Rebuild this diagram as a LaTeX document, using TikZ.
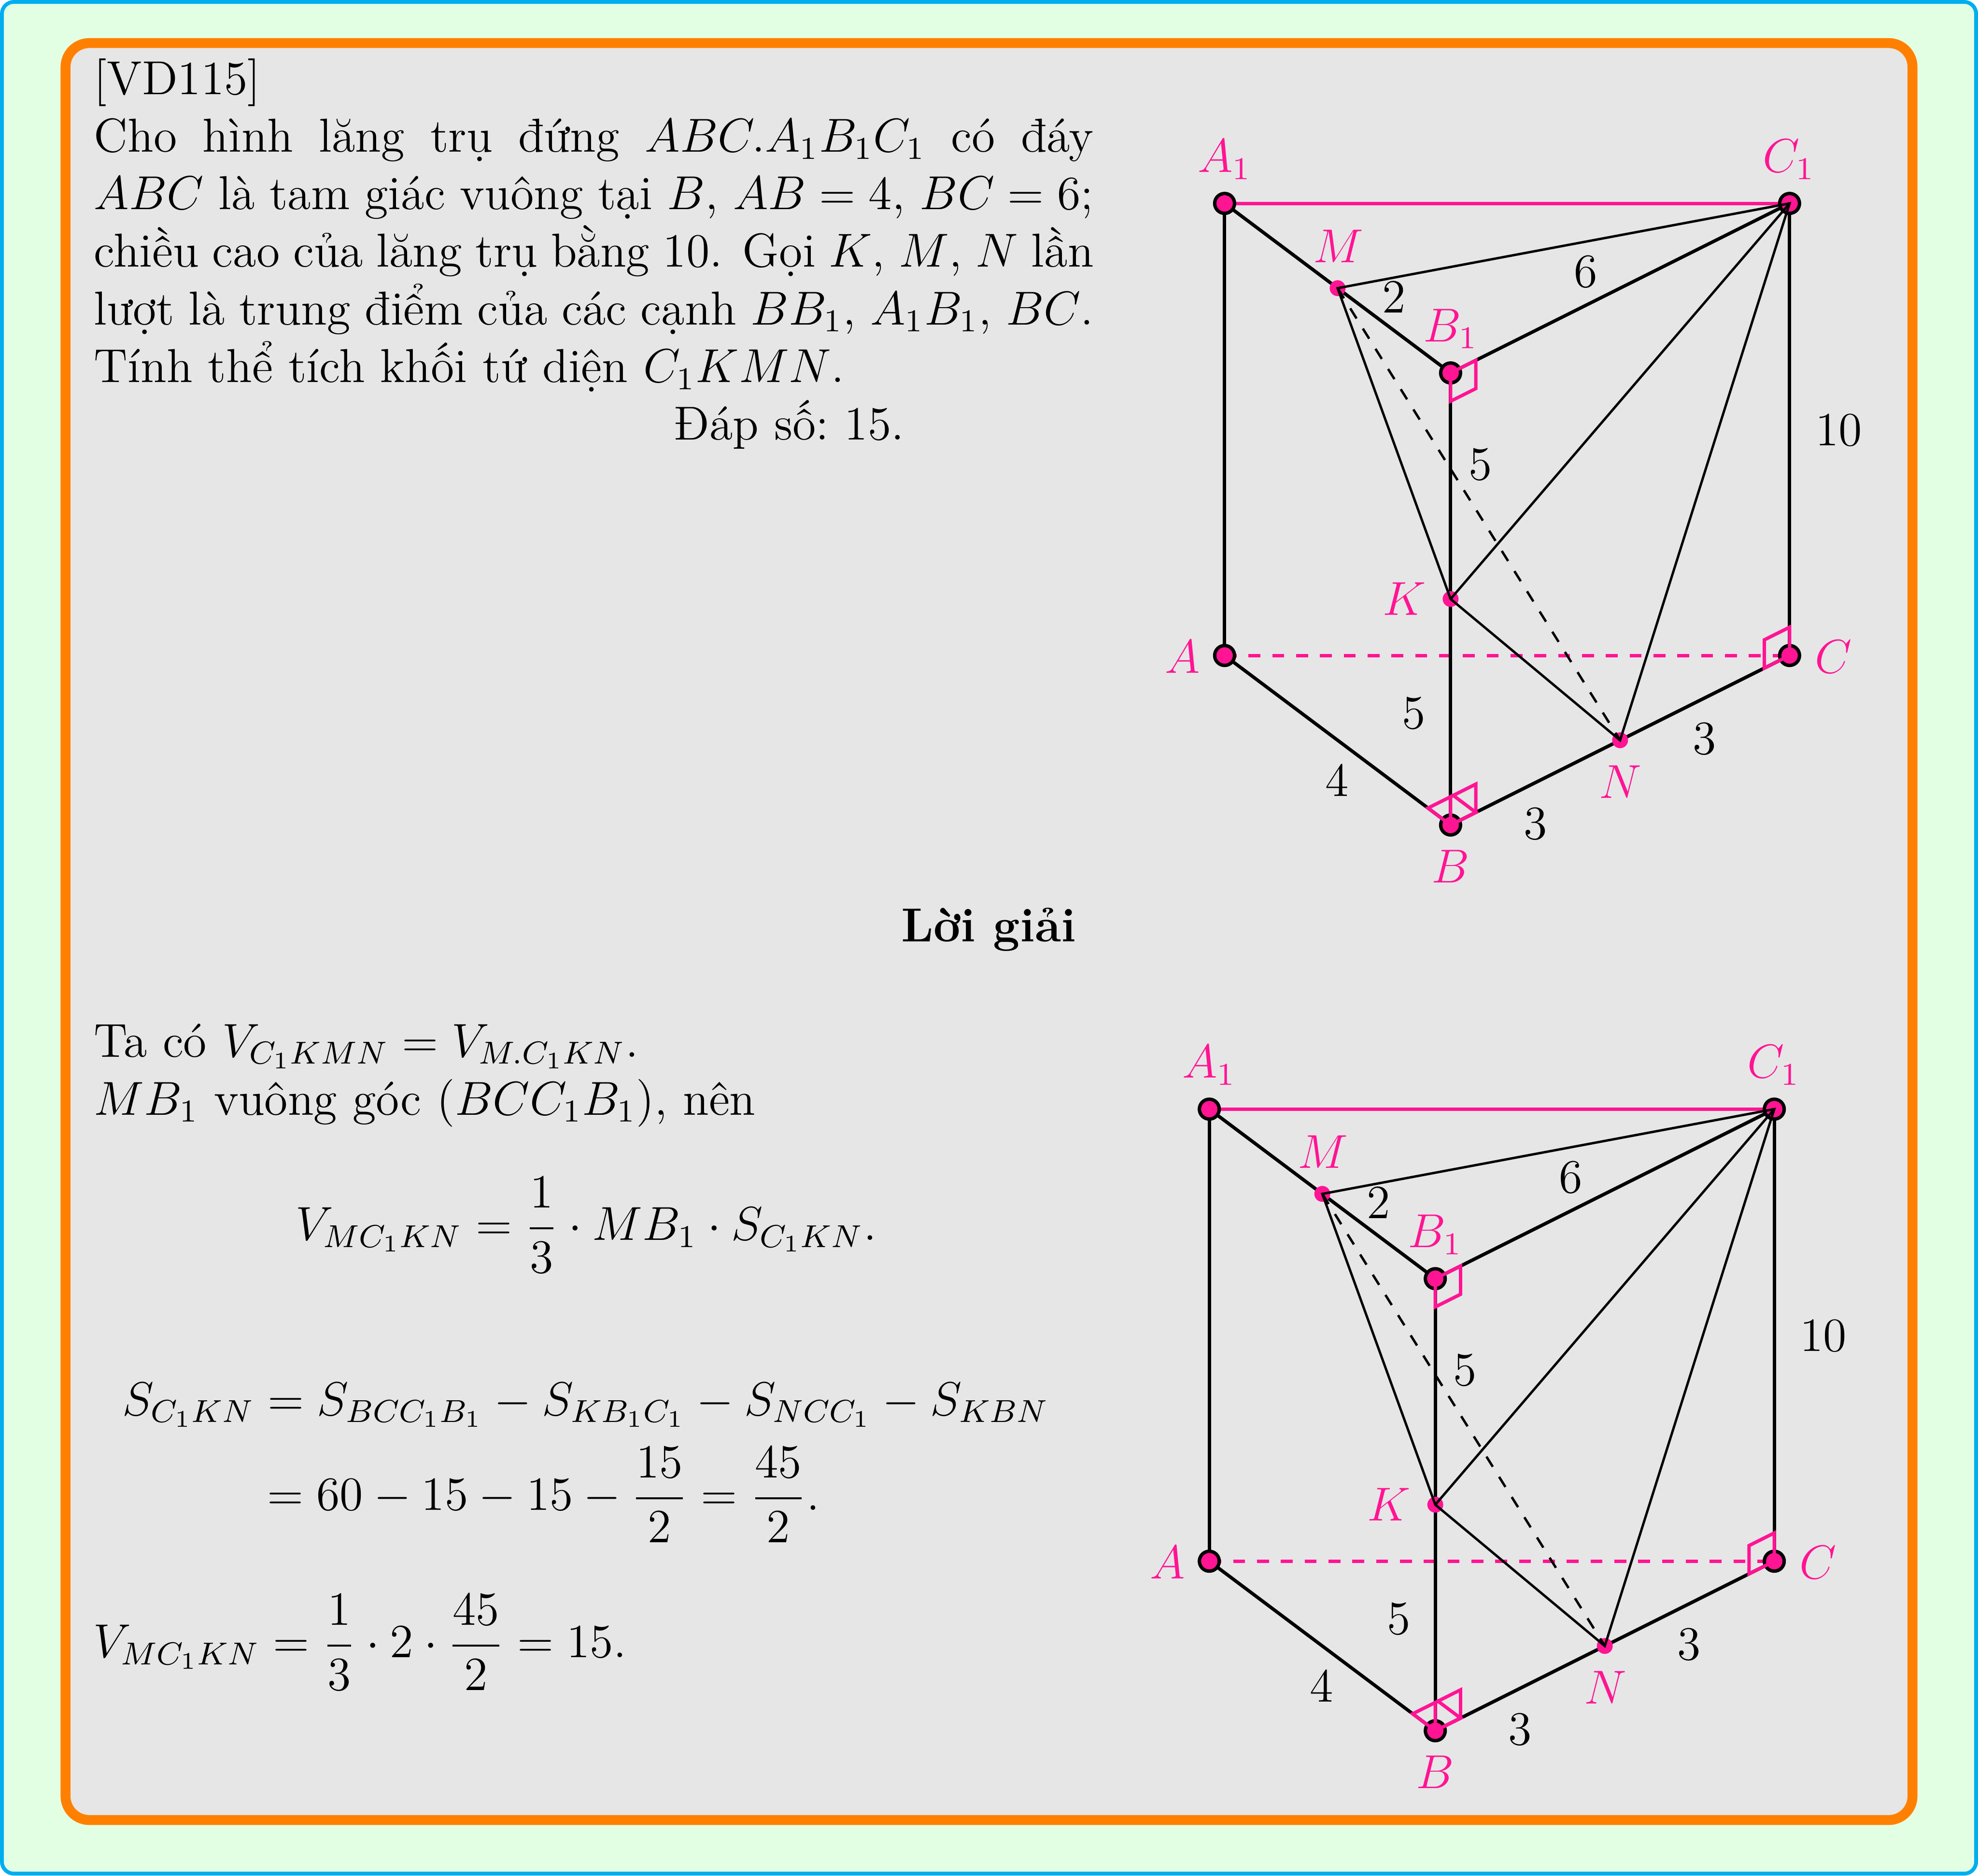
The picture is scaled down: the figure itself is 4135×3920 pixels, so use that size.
\documentclass[12pt,tikz,border=0pt]{standalone}
\usepackage{amsmath}
\definecolor{pinkc}{HTML}{FF1493}
\definecolor{framec}{HTML}{00AEEF}
\definecolor{greenbg}{HTML}{E3FFE3}
\definecolor{orangec}{HTML}{FF8000}
\definecolor{panelbg}{HTML}{E6E6E6}
\tikzset{
  bigdot/.style={circle,draw=black,fill=pinkc,line width=0.85pt,minimum size=5pt,inner sep=0pt,outer sep=0pt},
  smalldot/.style={circle,fill=pinkc,draw=none,minimum size=4pt,inner sep=0pt,outer sep=0pt},
  edgeline/.style={line width=0.85pt,black},
  pinkline/.style={line width=0.85pt,pinkc},
  thinline/.style={line width=0.6pt,black},
  anglemark/.style={line width=0.85pt,pinkc},
  ptlabel/.style={anchor=base,inner sep=0pt,text=pinkc},
  numlabel/.style={anchor=base,inner sep=0pt,text=black},
  txt/.style={anchor=base west,inner sep=0pt,text=black}
}
\newcommand{\prismfig}[3]{%
\begin{scope}[shift={(#1,#2)},x=1cm,y=1cm]
  \coordinate (A#3) at (0,0);
  \coordinate (B#3) at (2,-1.5);
  \coordinate (C#3) at (5,0);
  \coordinate (Ap#3) at (0,4);
  \coordinate (Bp#3) at (2,2.5);
  \coordinate (Cp#3) at (5,4);
  \coordinate (M#3) at (1,3.25);
  \coordinate (K#3) at (2,0.5);
  \coordinate (N#3) at (3.5,-0.75);
  \draw[pinkline] (Ap#3) -- (Cp#3);
  \draw[pinkline,dashed] (A#3) -- (C#3);
  \draw[edgeline] (Ap#3) -- (A#3);
  \draw[edgeline] (Ap#3) -- (Bp#3);
  \draw[edgeline] (Bp#3) -- (Cp#3);
  \draw[edgeline] (Bp#3) -- (B#3);
  \draw[edgeline] (Cp#3) -- (C#3);
  \draw[edgeline] (A#3) -- (B#3);
  \draw[edgeline] (B#3) -- (C#3);
  \node[bigdot] (dA#3) at (A#3) {};
  \node[bigdot] (dB#3) at (B#3) {};
  \node[bigdot] (dC#3) at (C#3) {};
  \node[bigdot] (dAp#3) at (Ap#3) {};
  \node[bigdot] (dBp#3) at (Bp#3) {};
  \node[bigdot] (dCp#3) at (Cp#3) {};
  \node[smalldot] (dM#3) at (M#3) {};
  \node[smalldot] (dK#3) at (K#3) {};
  \node[smalldot] (dN#3) at (N#3) {};
  % right angle marks
  \draw[anglemark] (B#3) -- ++(-0.2,0.15) -- ++(0.2236,0.1118) -- ++(0.2,-0.15) -- ++(-0.2236,-0.1118);
  \draw[anglemark] (B#3) -- ++(0,0.25) -- ++(0.2236,0.1118) -- ++(0,-0.25) -- ++(-0.2236,-0.1118);
  \draw[anglemark] (Bp#3) -- ++(0,-0.25) -- ++(0.2236,0.1118) -- ++(0,0.25) -- ++(-0.2236,-0.1118);
  \draw[anglemark] (C#3) -- ++(0,0.25) -- ++(-0.2236,-0.1118) -- ++(0,-0.25) -- ++(0.2236,0.1118);
  % thin segments
  \draw[thinline] (M#3) -- (Cp#3) -- (N#3) -- (K#3) -- cycle;
  \draw[thinline] (K#3) -- (Cp#3);
  \draw[thinline,dashed] (M#3) -- (N#3);
  % labels
  \node[ptlabel] (lAp#3) at (0,4.276) {$A_1$};
  \node[ptlabel] (lCp#3) at (4.995,4.276) {$C_1$};
  \node[ptlabel] (lM#3) at (1.006,3.477) {$M$};
  \node[ptlabel] (lBp#3) at (2,2.778) {$B_1$};
  \node[ptlabel] (lK#3) at (1.59,0.359) {$K$};
  \node[ptlabel] (lA#3) at (-0.371,-0.156) {$A$};
  \node[ptlabel] (lC#3) at (5.387,-0.156) {$C$};
  \node[ptlabel] (lN#3) at (3.503,-1.261) {$N$};
  \node[ptlabel] (lB#3) at (2,-2.009) {$B$};
  \node[numlabel] (nii#3) at (1.499,3.032) {$2$};
  \node[numlabel] (nvi#3) at (3.197,3.258) {$6$};
  \node[numlabel] (nx#3) at (5.434,1.857) {$10$};
  \node[numlabel] (nvu#3) at (2.263,1.555) {$5$};
  \node[numlabel] (nvl#3) at (1.676,-0.648) {$5$};
  \node[numlabel] (niv#3) at (0.994,-1.244) {$4$};
  \node[numlabel] (niiir#3) at (4.246,-0.873) {$3$};
  \node[numlabel] (niiil#3) at (2.752,-1.624) {$3$};
\end{scope}}
\begin{document}
\begin{tikzpicture}[x=0.12045pt,y=-0.12045pt]
  \useasboundingbox (0,0) rectangle (4135,3920);
  \draw[line width=0.96pt,draw=framec,fill=greenbg,rounded corners=3pt] (4,4) rectangle (4131,3916);
  \draw[line width=2.5pt,draw=orangec,fill=panelbg,rounded corners=6pt] (137,90) rectangle (3998,3804);
  \node[txt] (problem) at (195,197) {\parbox[t]{251.7pt}{[VD115]\\
    Cho hình lăng trụ đứng $ABC.A_1B_1C_1$ có đáy\linebreak
    $ABC$ là tam giác vuông tại $B$, $AB=4$, $BC=6$;\linebreak
    chiều cao của lăng trụ bằng 10. Gọi $K$, $M$, $N$ lần\linebreak
    lượt là trung điểm của các cạnh $BB_1$, $A_1B_1$, $BC$.\linebreak
    Tính thể tích khối tứ diện $C_1KMN$.}};
  \node[txt] (answer) at (1407,919) {Đáp số:\ 15.};
  \node[anchor=base,inner sep=0pt] (solhead) at (2067,1968) {\textbf{Lời giải}};
  \node[txt] (s1) at (195,2209) {Ta có $V_{C_1KMN}=V_{M.C_1KN}$.};
  \node[txt] (s2) at (195,2330) {$MB_1$ vuông góc $(BCC_1B_1)$, nên};
  \node[txt] (s3) at (617,2592) {$\displaystyle V_{MC_1KN}=\frac13\cdot MB_1\cdot S_{C_1KN}.$};
  \node[txt] (s4) at (254,2958) {$\displaystyle S_{C_1KN}=S_{BCC_1B_1}-S_{KB_1C_1}-S_{NCC_1}-S_{KBN}$};
  \node[txt] (s5) at (529,3156) {$\displaystyle {}=60-15-15-\frac{15}{2}=\frac{45}{2}.$};
  \node[txt] (s6) at (194,3464) {$\displaystyle V_{MC_1KN}=\frac13\cdot 2\cdot\frac{45}{2}=15.$};
  \prismfig{2560}{1370}{a}
  \prismfig{2528}{3263}{b}
\end{tikzpicture}
\end{document}
